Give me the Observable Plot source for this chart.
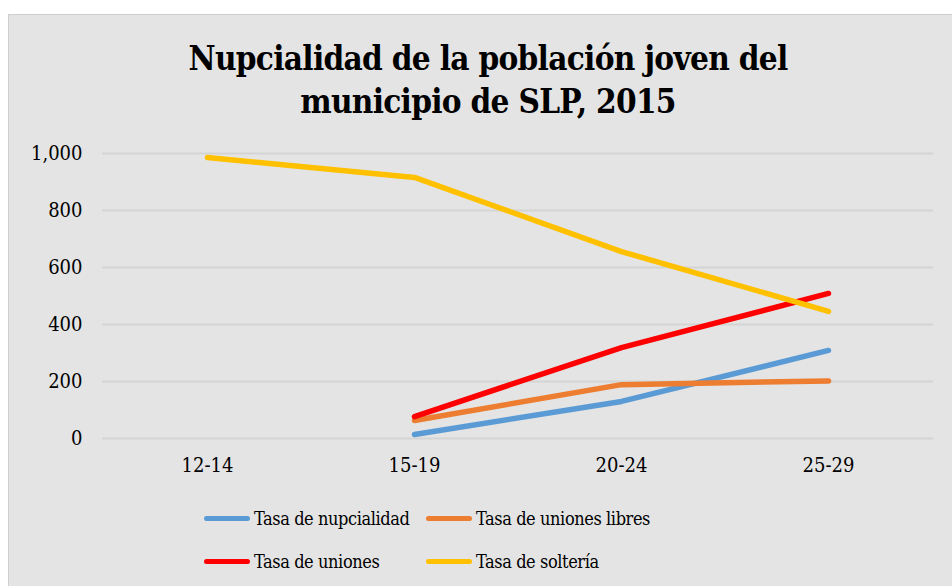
<!DOCTYPE html>
<html><head><meta charset="utf-8">
<script src="https://cdn.jsdelivr.net/npm/d3@7"></script>
<script src="https://cdn.jsdelivr.net/npm/@observablehq/plot@0.6"></script>
<style>
body{margin:0;background:#fff;width:952px;height:586px;overflow:hidden;font-family:"DejaVu Serif Condensed","DejaVu Serif",serif;}
#panel{position:absolute;left:8px;top:14px;width:944px;height:572px;background:#e4e4e4;border-left:1px solid #cfcfcf;border-top:1px solid #cfcfcf;box-sizing:border-box;}
#title{position:absolute;left:0;top:22px;width:958px;text-align:center;font-weight:bold;font-size:33px;letter-spacing:-0.7px;line-height:43px;color:#000;}
#chart{position:absolute;left:-1px;top:-1px;}
.leg{position:absolute;font-size:18px;letter-spacing:-0.4px;color:#000;display:flex;align-items:center;white-space:nowrap;}
.sw{display:inline-block;width:46px;height:5px;border-radius:3px;margin-right:4px;}
</style></head><body>
<div id="panel">
<div id="title">Nupcialidad de la población joven del<br>municipio de SLP, 2015</div>
<div id="chart"></div>
<div id="legend"></div>
</div>
<script>
const categories = ["12-14","15-19","20-24","25-29"];
const seriesNames = ["Tasa de nupcialidad","Tasa de uniones libres","Tasa de uniones","Tasa de soltería"];
const seriesColors = ["#5b9bd5","#ed7d31","#ff0000","#ffc000"];
const nupcialidad = [null, 14, 130, 309];
const unionesLibres = [null, 63, 189, 202];
const uniones = [null, 77, 319, 509];
const solteria = [986, 916, 656, 446];
const yTicks = [0,200,400,600,800,1000];

const allSeries = [nupcialidad, unionesLibres, uniones, solteria];
const rows = [];
allSeries.forEach((vals, si) => vals.forEach((v, i) => {
  if (v !== null) rows.push({serie: seriesNames[si], cat: categories[i], value: v});
}));

const FONT = "'DejaVu Serif Condensed','DejaVu Serif',serif";
const W = 944, H = 480;
const plot = Plot.plot({
  width: W, height: H,
  marginTop: 139, marginBottom: 56, marginLeft: 94, marginRight: 19,
  style: {background: "transparent", fontFamily: FONT, fontSize: "20px", color: "#000"},
  x: {type: "point", domain: categories, padding: 0.5, label: null},
  y: {domain: [0, 1000], label: null},
  color: {domain: seriesNames, range: seriesColors},
  marks: [
    Plot.gridY(yTicks, {stroke: "#d4d4d4", strokeOpacity: 1, strokeWidth: 2}),
    Plot.axisY(yTicks, {tickSize: 0, tickPadding: 20, tickFormat: d3.format(","), fontSize: 20, fontFamily: FONT, label: null}),
    Plot.axisX(categories, {tickSize: 0, tickPadding: 19, fontSize: 20, fontFamily: FONT, label: null}),
    Plot.line(rows, {x: "cat", y: "value", z: "serie", stroke: "serie", strokeWidth: 5.5, strokeLinecap: "round", strokeLinejoin: "round", curve: "linear"})
  ]
});
document.getElementById("chart").appendChild(plot);

const legPos = [[195,503],[417,503],[195,546],[417,546]];
const legend = document.getElementById("legend");
seriesNames.forEach((n, i) => {
  const d = document.createElement("div");
  d.className = "leg";
  d.style.left = legPos[i][0] + "px";
  d.style.top = (legPos[i][1] - 12) + "px";
  d.style.height = "24px";
  d.innerHTML = `<span class="sw" style="background:${seriesColors[i]}"></span>${n}`;
  legend.appendChild(d);
});
</script>
</body></html>
